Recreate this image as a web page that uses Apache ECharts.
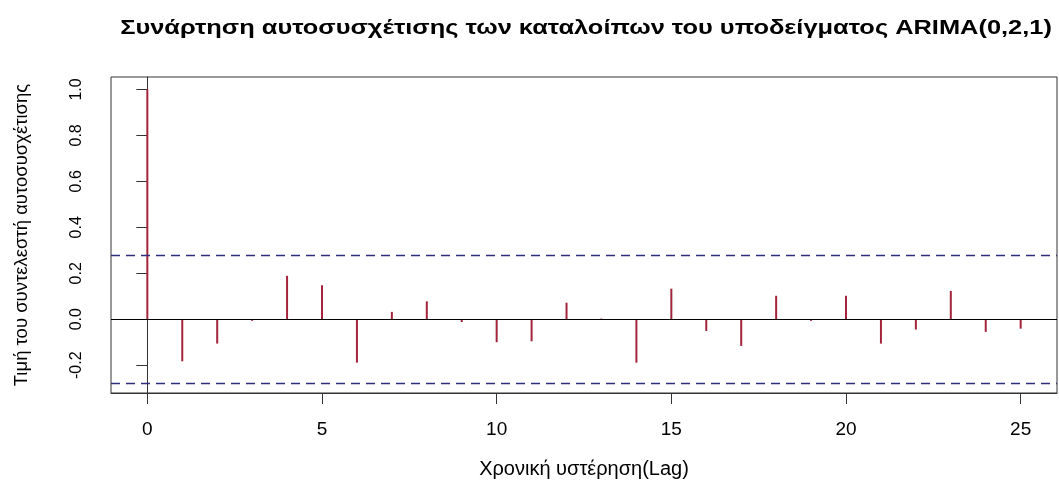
<!DOCTYPE html>
<html>
<head>
<meta charset="utf-8">
<script src="https://cdn.jsdelivr.net/npm/echarts@6/dist/echarts.min.js"></script>
<style>
html,body{margin:0;padding:0;background:#fff;}
#chart{width:1059px;height:484px;}
</style>
</head>
<body>
<div id="chart"></div>
<script>
const lags = [0,1,2,3,4,5,6,7,8,9,10,11,12,13,14,15,16,17,18,19,20,21,22,23,24,25];
const acfValues = [1.0,-0.183,-0.106,-0.007,0.189,0.148,-0.189,0.032,0.078,-0.012,-0.100,-0.096,0.072,0.003,-0.189,0.133,-0.051,-0.116,0.102,-0.007,0.102,-0.106,-0.045,0.123,-0.055,-0.041];
const ciBound = 0.275;
const xTicks = [0,5,10,15,20,25];
const yTicks = [-0.2,0.0,0.2,0.4,0.6,0.8,1.0];
const titleText = 'Συνάρτηση αυτοσυσχέτισης των καταλοίπων του υποδείγματος ARIMA(0,2,1)';
const xTitle = 'Χρονική υστέρηση(Lag)';
const yTitle = 'Τιμή του συντελεστή αυτοσυσχέτισης';

const FONT = '"Liberation Sans", Arial, sans-serif';
const chart = echarts.init(document.getElementById('chart'), null, {renderer:'canvas'});
const barData = lags.map((l,i)=>[l, acfValues[i]]);

chart.setOption({
  animation:false,
  backgroundColor:'#fff',
  graphic:[
    {type:'text', x:586, y:28, scaleX:1.21, silent:true,
     style:{text:titleText, align:'center', verticalAlign:'middle',
       font:'bold 21px "Liberation Sans", Arial, sans-serif', fill:'#000'}}
  ],
  grid:{left:111, top:77, right:2, bottom:90, show:true, borderColor:'#333', borderWidth:1, backgroundColor:'transparent'},
  xAxis:{
    type:'value', min:-1.04, max:26.04,
    name:xTitle, nameLocation:'middle', nameGap:66,
    nameTextStyle:{fontFamily:FONT, fontSize:20, color:'#000'},
    splitLine:{show:false},
    axisLine:{show:true, onZero:false, lineStyle:{color:'#333'}},
    axisTick:{show:true, length:11, customValues:xTicks, lineStyle:{color:'#333'}},
    axisLabel:{customValues:xTicks, margin:27, fontFamily:FONT, fontSize:19, color:'#000'}
  },
  yAxis:{
    type:'value', min:-0.321, max:1.054,
    name:yTitle, nameLocation:'middle', nameGap:80, nameRotate:90,
    nameTextStyle:{fontFamily:FONT, fontSize:18.5, color:'#000'},
    splitLine:{show:false},
    axisLine:{show:true, lineStyle:{color:'#333'}},
    axisTick:{show:true, length:11, customValues:yTicks, lineStyle:{color:'#333'}},
    axisLabel:{customValues:yTicks, rotate:90, margin:26, fontFamily:FONT, fontSize:16, color:'#000',
      formatter:(v)=>v.toFixed(1)}
  },
  series:[
    {
      type:'bar', data:barData, barWidth:2, itemStyle:{color:'#a3243b'},
      markLine:{
        silent:true, symbol:'none', label:{show:false},
        data:[
          {yAxis:0, lineStyle:{color:'#000', type:'solid', width:1}},
          {yAxis:ciBound, lineStyle:{color:'#2e2e7c', type:[9,6], width:1.3}},
          {yAxis:-ciBound, lineStyle:{color:'#2e2e7c', type:[9,6], width:1.3}}
        ]
      }
    }
  ]
});
</script>
</body>
</html>
